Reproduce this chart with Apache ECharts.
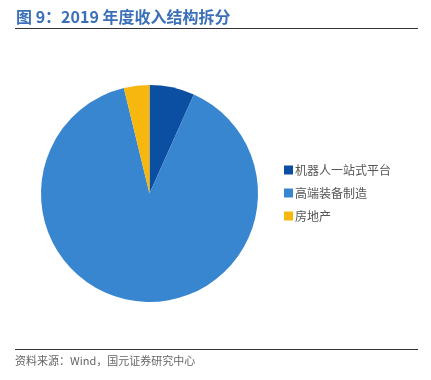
<!DOCTYPE html>
<html>
<head>
<meta charset="utf-8">
<script src="https://cdn.jsdelivr.net/npm/echarts@6/dist/echarts.min.js"></script>
<style>
  html, body { margin: 0; padding: 0; background: #fff; }
  #main { width: 431px; height: 380px; }
</style>
</head>
<body>
<div id="main"></div>
<script>
const categories = ['机器人一站式平台', '高端装备制造', '房地产']
const values = [6.7, 89.5, 3.8]
const colors = ['#0b4fa2', '#3886cf', '#f8b70f']

const chart = echarts.init(document.getElementById('main'), null, { renderer: 'canvas' })

const option = {
  backgroundColor: '#ffffff',
  animation: false,
  title: {
    text: '图 9：2019 年度收入结构拆分',
    left: 11,
    top: 4,
    textStyle: {
      fontFamily: 'Noto Sans CJK SC',
      fontSize: 16,
      fontWeight: 'bold',
      color: '#3a70b8'
    }
  },
  graphic: [
    {
      type: 'line',
      shape: { x1: 15, y1: 28.5, x2: 418, y2: 28.5 },
      style: { stroke: '#333', lineWidth: 1 }
    },
    {
      type: 'line',
      shape: { x1: 15, y1: 349.5, x2: 418, y2: 349.5 },
      style: { stroke: '#333', lineWidth: 1 }
    },
    {
      type: 'text',
      left: 15,
      top: 355,
      style: {
        text: '资料来源：Wind，国元证券研究中心',
        fontFamily: 'Noto Sans CJK SC',
        fontSize: 11,
        fill: '#666'
      }
    }
  ],
  legend: {
    orient: 'vertical',
    left: 279,
    top: 159,
    itemWidth: 9,
    itemHeight: 9,
    itemGap: 11,
    icon: 'rect',
    textStyle: {
      fontFamily: 'Noto Sans CJK SC',
      fontSize: 12,
      color: '#555',
      padding: [0, 0, 0, -3]
    },
    data: categories
  },
  series: [{
    type: 'pie',
    center: [149.5, 193.5],
    radius: [0, 108.5],
    startAngle: 90,
    clockwise: true,
    label: { show: false },
    labelLine: { show: false },
    itemStyle: { borderWidth: 0 },
    emphasis: { disabled: true },
    data: categories.map((name, i) => ({
      name: name,
      value: values[i],
      itemStyle: { color: colors[i] }
    }))
  }]
}

chart.setOption(option)
</script>
</body>
</html>
